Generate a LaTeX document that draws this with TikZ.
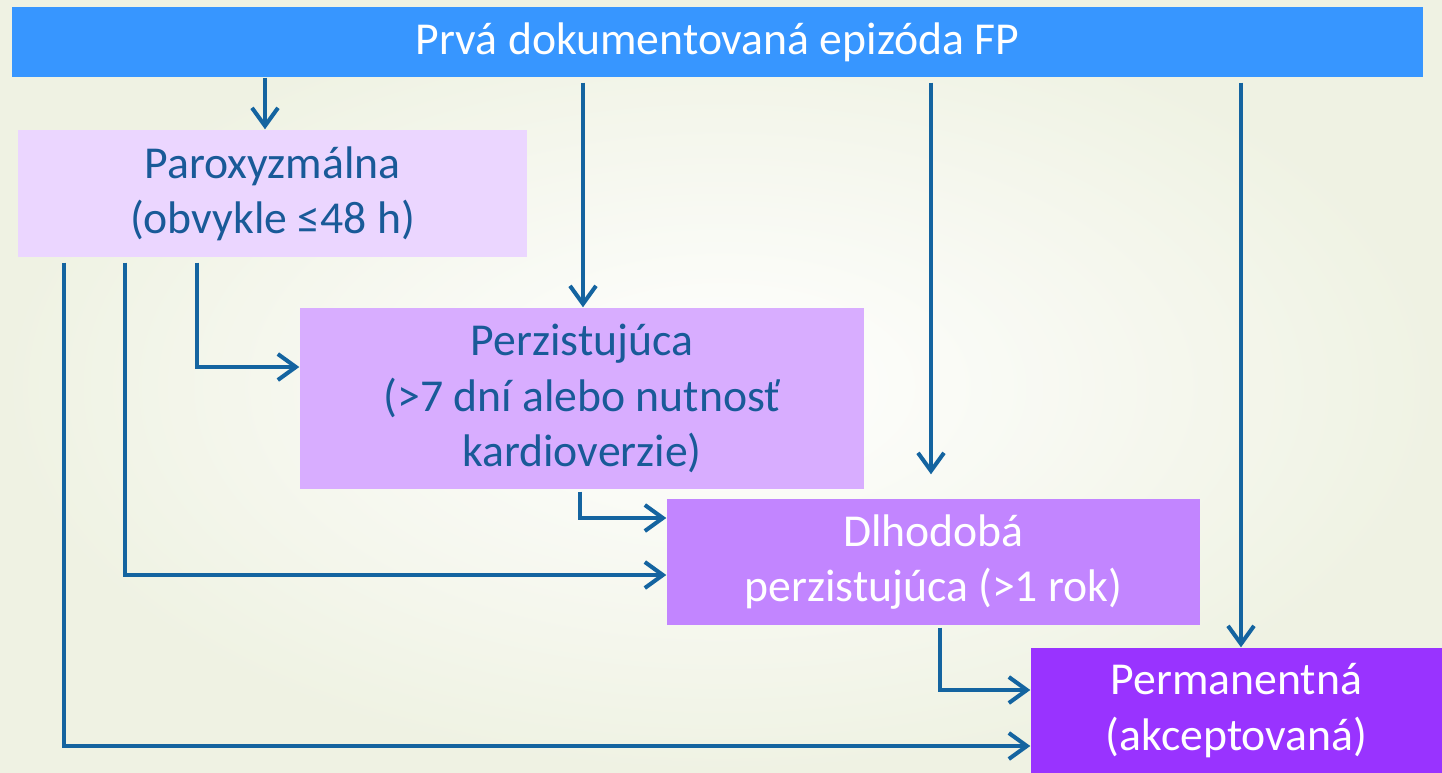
\documentclass[tikz,border=0pt]{standalone}
\usepackage{fontspec}
\setmainfont{Carlito}
\usepackage{xcolor}
\definecolor{topblue}{RGB}{55, 150, 255}
\definecolor{parcol}{RGB}{235, 214, 255}
\definecolor{percol}{RGB}{216, 173, 255}
\definecolor{dlhcol}{RGB}{194, 133, 255}
\definecolor{permcol}{RGB}{153, 51, 255}
\definecolor{linkblue}{RGB}{20, 100, 160}
\definecolor{textblue}{RGB}{25, 90, 152}
\definecolor{bgcol}{RGB}{239, 242, 227}
\usepackage{tikz}
\usetikzlibrary{
    arrows.meta,
    positioning
}
\tikzstyle{arrow} = [
    line width=1.15pt,
    draw=linkblue,
    -{Straight Barb[length=1.8mm, width=2.6mm, line width=1.15pt]}
]

\begin{document}
\begin{tikzpicture}[
  every node/.style={inner sep=0pt, align=center, font=\fontsize{13}{15.7}\selectfont},
  box/.style={minimum width=#1},
  lightbox/.style={text=textblue},
  darkbox/.style={text=white}
]

\useasboundingbox (0,0) rectangle (14.42,-7.73);
\shade[inner color=white, outer color=bgcol] (0,0) rectangle (14.42,-7.73);

\node (top)  [box=14.11cm, minimum height=0.70cm, fill=topblue, darkbox] at (7.175,-0.42) {Prvá dokumentovaná epizóda FP};
\node (par)  [box=5.09cm, minimum height=1.27cm, fill=parcol, lightbox] at (2.725,-1.935) {Paroxyzmálna\\(obvykle ≤48 h)};
\node (per)  [box=5.64cm, minimum height=1.81cm, fill=percol, lightbox] at (5.82,-3.985) {Perzistujúca\\(>7 dní alebo nutnosť\\kardioverzie)};
\node (dlh)  [box=5.33cm, minimum height=1.26cm, fill=dlhcol, darkbox] at (9.335,-5.62) {Dlhodobá\\perzistujúca (>1 rok)};
\node (perm) [box=4.11cm, minimum height=1.25cm, fill=permcol, darkbox] at (12.365,-7.105) {Permanentná\\(akceptovaná)};

% columns of the links
\coordinate (c1) at (2.65,0);
\coordinate (c2) at (5.83,0);
\coordinate (c3) at (9.31,0);
\coordinate (c4) at (12.41,0);
\coordinate (c5) at (1.97,0);
\coordinate (c6) at (1.25,0);
\coordinate (c7) at (0.64,0);
\coordinate (c8) at (5.80,0);
\coordinate (c9) at (9.40,0);

\draw[arrow] (top.south -| c1) -- (par.north -| c1);
\draw[arrow, shorten <=0.05cm] (top.south -| c2) -- (per.north -| c2);
\draw[arrow, shorten <=0.05cm, shorten >=0.24cm] (top.south -| c3) -- (dlh.north -| c3);
\draw[arrow, shorten <=0.05cm] (top.south -| c4) -- (perm.north -| c4);

\draw[arrow, shorten <=0.05cm] (par.south -| c5) |- ([yshift=0.315cm]per.west);
\draw[arrow, shorten <=0.05cm] (par.south -| c6) |- ([yshift=-0.13cm]dlh.west);
\draw[arrow, shorten <=0.05cm] (par.south -| c7) |- ([yshift=-0.355cm]perm.west);
\draw[arrow, shorten <=0.02cm] (per.south -| c8) |- ([yshift=0.44cm]dlh.west);
\draw[arrow, shorten <=0.02cm] (dlh.south -| c9) |- ([yshift=0.205cm]perm.west);

\end{tikzpicture}
\end{document}
